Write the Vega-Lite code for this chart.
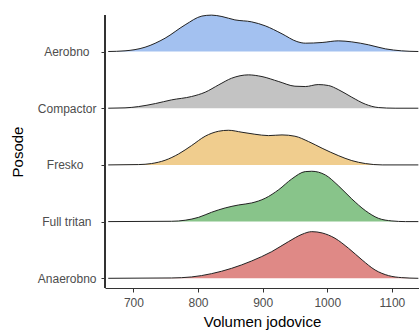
{
  "$schema": "https://vega.github.io/schema/vega-lite/v6.json",
  "width": 314,
  "height": 273,
  "autosize": {"type": "none"},
  "padding": {"left": 105, "top": 15, "right": 0, "bottom": 48},
  "background": "white",
  "config": {
    "view": {"stroke": null},
    "font": "Liberation Sans",
    "axis": {
      "grid": false,
      "domainColor": "#333333",
      "domainWidth": 1,
      "tickColor": "#333333",
      "tickWidth": 1,
      "tickSize": 4,
      "labelColor": "#4d4d4d",
      "labelFont": "Liberation Sans",
      "labelFontSize": 12,
      "titleFont": "Liberation Sans",
      "titleFontSize": 15,
      "titleFontWeight": "normal",
      "titleColor": "#000000"
    }
  },
  "data": {
    "values": [
      {"group": "Aerobno", "x": 661, "d": 0},
      {"group": "Aerobno", "x": 687, "d": 0.012},
      {"group": "Aerobno", "x": 718, "d": 0.076},
      {"group": "Aerobno", "x": 749, "d": 0.235},
      {"group": "Aerobno", "x": 780, "d": 0.47},
      {"group": "Aerobno", "x": 806, "d": 0.625},
      {"group": "Aerobno", "x": 821, "d": 0.642},
      {"group": "Aerobno", "x": 837, "d": 0.617},
      {"group": "Aerobno", "x": 857, "d": 0.558},
      {"group": "Aerobno", "x": 883, "d": 0.523},
      {"group": "Aerobno", "x": 904, "d": 0.453},
      {"group": "Aerobno", "x": 930, "d": 0.312},
      {"group": "Aerobno", "x": 953, "d": 0.176},
      {"group": "Aerobno", "x": 966, "d": 0.147},
      {"group": "Aerobno", "x": 992, "d": 0.159},
      {"group": "Aerobno", "x": 1017, "d": 0.188},
      {"group": "Aerobno", "x": 1038, "d": 0.17},
      {"group": "Aerobno", "x": 1064, "d": 0.118},
      {"group": "Aerobno", "x": 1090, "d": 0.047},
      {"group": "Aerobno", "x": 1115, "d": 0.012},
      {"group": "Aerobno", "x": 1141, "d": 0},
      {"group": "Compactor", "x": 661, "d": 0},
      {"group": "Compactor", "x": 687, "d": 0.006},
      {"group": "Compactor", "x": 708, "d": 0.029},
      {"group": "Compactor", "x": 734, "d": 0.082},
      {"group": "Compactor", "x": 759, "d": 0.147},
      {"group": "Compactor", "x": 790, "d": 0.206},
      {"group": "Compactor", "x": 811, "d": 0.282},
      {"group": "Compactor", "x": 832, "d": 0.412},
      {"group": "Compactor", "x": 852, "d": 0.529},
      {"group": "Compactor", "x": 878, "d": 0.588},
      {"group": "Compactor", "x": 899, "d": 0.558},
      {"group": "Compactor", "x": 925, "d": 0.47},
      {"group": "Compactor", "x": 950, "d": 0.388},
      {"group": "Compactor", "x": 966, "d": 0.382},
      {"group": "Compactor", "x": 986, "d": 0.417},
      {"group": "Compactor", "x": 1002, "d": 0.4},
      {"group": "Compactor", "x": 1017, "d": 0.329},
      {"group": "Compactor", "x": 1038, "d": 0.194},
      {"group": "Compactor", "x": 1059, "d": 0.071},
      {"group": "Compactor", "x": 1079, "d": 0.012},
      {"group": "Compactor", "x": 1105, "d": 0},
      {"group": "Compactor", "x": 1141, "d": 0},
      {"group": "Fresko", "x": 661, "d": 0},
      {"group": "Fresko", "x": 708, "d": 0.006},
      {"group": "Fresko", "x": 728, "d": 0.024},
      {"group": "Fresko", "x": 749, "d": 0.082},
      {"group": "Fresko", "x": 770, "d": 0.194},
      {"group": "Fresko", "x": 790, "d": 0.341},
      {"group": "Fresko", "x": 811, "d": 0.506},
      {"group": "Fresko", "x": 832, "d": 0.594},
      {"group": "Fresko", "x": 847, "d": 0.611},
      {"group": "Fresko", "x": 868, "d": 0.576},
      {"group": "Fresko", "x": 888, "d": 0.541},
      {"group": "Fresko", "x": 909, "d": 0.517},
      {"group": "Fresko", "x": 930, "d": 0.529},
      {"group": "Fresko", "x": 950, "d": 0.506},
      {"group": "Fresko", "x": 971, "d": 0.412},
      {"group": "Fresko", "x": 992, "d": 0.294},
      {"group": "Fresko", "x": 1017, "d": 0.165},
      {"group": "Fresko", "x": 1038, "d": 0.076},
      {"group": "Fresko", "x": 1059, "d": 0.024},
      {"group": "Fresko", "x": 1085, "d": 0},
      {"group": "Fresko", "x": 1141, "d": 0},
      {"group": "Full tritan", "x": 661, "d": 0},
      {"group": "Full tritan", "x": 759, "d": 0.006},
      {"group": "Full tritan", "x": 780, "d": 0.024},
      {"group": "Full tritan", "x": 801, "d": 0.076},
      {"group": "Full tritan", "x": 821, "d": 0.165},
      {"group": "Full tritan", "x": 842, "d": 0.241},
      {"group": "Full tritan", "x": 863, "d": 0.294},
      {"group": "Full tritan", "x": 883, "d": 0.329},
      {"group": "Full tritan", "x": 904, "d": 0.412},
      {"group": "Full tritan", "x": 925, "d": 0.564},
      {"group": "Full tritan", "x": 945, "d": 0.752},
      {"group": "Full tritan", "x": 966, "d": 0.882},
      {"group": "Full tritan", "x": 976, "d": 0.888},
      {"group": "Full tritan", "x": 997, "d": 0.823},
      {"group": "Full tritan", "x": 1017, "d": 0.635},
      {"group": "Full tritan", "x": 1038, "d": 0.4},
      {"group": "Full tritan", "x": 1059, "d": 0.194},
      {"group": "Full tritan", "x": 1079, "d": 0.059},
      {"group": "Full tritan", "x": 1100, "d": 0.012},
      {"group": "Full tritan", "x": 1121, "d": 0},
      {"group": "Full tritan", "x": 1141, "d": 0},
      {"group": "Anaerobno", "x": 661, "d": 0},
      {"group": "Anaerobno", "x": 759, "d": 0.006},
      {"group": "Anaerobno", "x": 790, "d": 0.024},
      {"group": "Anaerobno", "x": 821, "d": 0.082},
      {"group": "Anaerobno", "x": 852, "d": 0.176},
      {"group": "Anaerobno", "x": 883, "d": 0.306},
      {"group": "Anaerobno", "x": 914, "d": 0.47},
      {"group": "Anaerobno", "x": 940, "d": 0.647},
      {"group": "Anaerobno", "x": 961, "d": 0.776},
      {"group": "Anaerobno", "x": 976, "d": 0.823},
      {"group": "Anaerobno", "x": 992, "d": 0.8},
      {"group": "Anaerobno", "x": 1012, "d": 0.706},
      {"group": "Anaerobno", "x": 1033, "d": 0.529},
      {"group": "Anaerobno", "x": 1054, "d": 0.323},
      {"group": "Anaerobno", "x": 1074, "d": 0.147},
      {"group": "Anaerobno", "x": 1095, "d": 0.047},
      {"group": "Anaerobno", "x": 1115, "d": 0.012},
      {"group": "Anaerobno", "x": 1141, "d": 0}
    ]
  },
  "encoding": {
    "x": {
      "field": "x",
      "type": "quantitative",
      "scale": {"domain": [656, 1142], "nice": false, "zero": false},
      "axis": {
        "values": [700, 800, 900, 1000, 1100],
        "format": "d",
        "labelPadding": 5,
        "title": "Volumen jodovice",
        "titlePadding": 6
      }
    }
  },
  "resolve": {"scale": {"y": "independent"}, "axis": {"y": "independent"}},
  "layer": [
    {
      "mark": {"type": "point", "opacity": 0},
      "encoding": {
        "y": {
          "field": "group",
          "type": "nominal",
          "scale": {
            "type": "point",
            "domain": ["Aerobno", "Compactor", "Fresko", "Full tritan", "Anaerobno"],
            "range": [36.5, 263.3],
            "padding": 0
          },
          "axis": {
            "domain": false,
            "labelPadding": {
              "condition": [
                {"test": "datum.value === 'Aerobno'", "value": 12},
                {"test": "datum.value === 'Fresko'", "value": 18},
                {"test": "datum.value === 'Full tritan'", "value": 10}
              ],
              "value": 5
            },
            "title": "Posode",
            "titleAngle": -90,
            "titleX": -88,
            "titleY": 136.5,
            "titleAlign": "center",
            "titleBaseline": "middle"
          }
        }
      }
    },
    {
      "mark": {"type": "rule", "color": "#333333", "strokeWidth": 1},
      "encoding": {"x": {"datum": 656}}
    },
    {
      "transform": [{"filter": "datum.group == 'Aerobno'"}],
      "mark": {"type": "area", "interpolate": "monotone", "color": "#a3c1f0", "fillOpacity": 1, "line": {"color": "#222222", "strokeWidth": 1}},
      "encoding": {
        "y": {"field": "d", "type": "quantitative", "scale": {"domain": [-4.171, 0.644], "nice": false, "zero": false}, "axis": null},
        "y2": {"datum": 0}
      }
    },
    {
      "transform": [{"filter": "datum.group == 'Compactor'"}],
      "mark": {"type": "area", "interpolate": "monotone", "color": "#c3c3c3", "fillOpacity": 1, "line": {"color": "#222222", "strokeWidth": 1}},
      "encoding": {
        "y": {"field": "d", "type": "quantitative", "scale": {"domain": [-3.171, 1.644], "nice": false, "zero": false}, "axis": null},
        "y2": {"datum": 0}
      }
    },
    {
      "transform": [{"filter": "datum.group == 'Fresko'"}],
      "mark": {"type": "area", "interpolate": "monotone", "color": "#f0cd8e", "fillOpacity": 1, "line": {"color": "#222222", "strokeWidth": 1}},
      "encoding": {
        "y": {"field": "d", "type": "quantitative", "scale": {"domain": [-2.171, 2.644], "nice": false, "zero": false}, "axis": null},
        "y2": {"datum": 0}
      }
    },
    {
      "transform": [{"filter": "datum.group == 'Full tritan'"}],
      "mark": {"type": "area", "interpolate": "monotone", "color": "#88c48a", "fillOpacity": 1, "line": {"color": "#222222", "strokeWidth": 1}},
      "encoding": {
        "y": {"field": "d", "type": "quantitative", "scale": {"domain": [-1.171, 3.644], "nice": false, "zero": false}, "axis": null},
        "y2": {"datum": 0}
      }
    },
    {
      "transform": [{"filter": "datum.group == 'Anaerobno'"}],
      "mark": {"type": "area", "interpolate": "monotone", "color": "#df8986", "fillOpacity": 1, "line": {"color": "#222222", "strokeWidth": 1}},
      "encoding": {
        "y": {"field": "d", "type": "quantitative", "scale": {"domain": [-0.171, 4.644], "nice": false, "zero": false}, "axis": null},
        "y2": {"datum": 0}
      }
    }
  ]
}
